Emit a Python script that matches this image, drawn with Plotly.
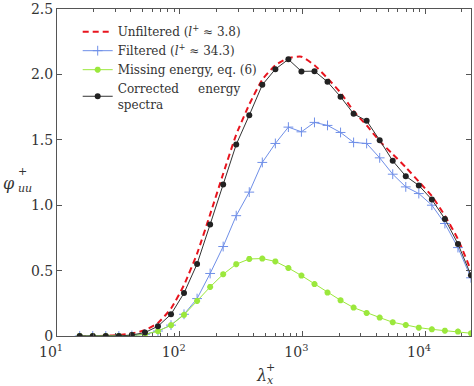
import plotly.graph_objects as go

# wavelength lambda_x^+
lam = [15.31, 19.56, 24.98, 31.92, 40.77, 52.10, 66.53, 85.01, 108.5, 138.7,
       177.2, 226.3, 289.1, 369.3, 471.7, 602.6, 769.7, 983.1, 1256, 1604,
       2049, 2618, 3344, 4272, 5457, 6971, 8905, 11374, 14529, 18561, 23710]

unfiltered = [0, 0, 0.002, 0.008, 0.02, 0.045, 0.10, 0.21, 0.39, 0.63,
              0.93, 1.24, 1.54, 1.77, 1.96, 2.07, 2.125, 2.135, 2.07, 1.97,
              1.86, 1.72, 1.61, 1.49, 1.39, 1.29, 1.18, 1.07, 0.92, 0.74, 0.50]

filtered = [0, 0, 0, 0, 0.004, 0.013, 0.038, 0.083, 0.166, 0.286,
            0.478, 0.684, 0.92, 1.10, 1.327, 1.472, 1.597, 1.561, 1.633, 1.610,
            1.556, 1.480, 1.472, 1.362, 1.237, 1.140, 1.089, 1.0, 0.86, 0.676, 0.445]

missing = [0, 0, 0, 0, 0.004, 0.013, 0.037, 0.083, 0.162, 0.268,
           0.375, 0.472, 0.549, 0.589, 0.592, 0.570, 0.520, 0.462, 0.397, 0.332,
           0.273, 0.217, 0.176, 0.141, 0.105, 0.084, 0.064, 0.051, 0.041, 0.034, 0.021]

corrected = [0, 0, 0, 0, 0.008, 0.026, 0.075, 0.166, 0.328, 0.551,
             0.853, 1.158, 1.464, 1.688, 1.920, 2.040, 2.115, 2.023, 2.025, 1.943,
             1.829, 1.699, 1.645, 1.497, 1.339, 1.222, 1.151, 1.043, 0.895, 0.704, 0.464]

x_tickvals = [10, 100, 1000, 10000]
x_ticktext = ["10<sup>1</sup>", "10<sup>2</sup>", "10<sup>3</sup>", "10<sup>4</sup>"]
y_tickvals = [0, 0.5, 1.0, 1.5, 2.0, 2.5]
y_ticktext = ["0", "0.5", "1.0", "1.5", "2.0", "2.5"]

FONT = "DejaVu Serif, Liberation Serif, serif"

fig = go.Figure()
fig.add_trace(go.Scatter(
    x=lam, y=unfiltered, mode="lines", name="Unfiltered (<i>l</i><sup>+</sup> ≈ 3.8)",
    line=dict(color="#e8141e", width=2, dash="6px,4px", shape="spline", smoothing=0.5)))
fig.add_trace(go.Scatter(
    x=lam, y=filtered, mode="lines+markers", name="Filtered (<i>l</i><sup>+</sup> ≈ 34.3)",
    line=dict(color="#6f8fe8", width=1),
    marker=dict(symbol="cross-thin", size=7, line=dict(color="#6f8fe8", width=1))))
fig.add_trace(go.Scatter(
    x=lam, y=missing, mode="lines+markers", name="Missing energy, eq. (6)",
    line=dict(color="#9be83c", width=1),
    marker=dict(symbol="asterisk-open", size=5, line=dict(color="#8fe030", width=2))))
fig.add_trace(go.Scatter(
    x=lam, y=corrected, mode="lines+markers",
    name="Corrected&nbsp;&nbsp;&nbsp;&nbsp;&nbsp;energy<br>spectra",
    line=dict(color="#333333", width=1),
    marker=dict(symbol="circle", size=6, color="#222222")))

axis_common = dict(showgrid=False, zeroline=False, showline=True, linecolor="#555555",
                   linewidth=1, mirror="ticks", ticks="inside", ticklen=5,
                   tickcolor="#555555", tickfont=dict(family=FONT, size=14, color="#333333"))

fig.update_xaxes(type="log", range=[1, 4.375], tickvals=x_tickvals, ticktext=x_ticktext,
                 minor=dict(ticks="inside", ticklen=3, dtick="D1", tickcolor="#555555"),
                 ticklabelshift=-6, ticklabelstandoff=3,
                 automargin=False, **axis_common)
fig.update_yaxes(range=[0, 2.5], tickvals=y_tickvals, ticktext=y_ticktext,
                 automargin=False, **axis_common)

ann_font = dict(family=FONT, size=16, color="#333333")
small_font = dict(family=FONT, size=11, color="#333333")
fig.add_annotation(xref="paper", yref="paper", x=-0.115, y=0.465, text="<i>φ</i>",
                   showarrow=False, font=ann_font, xanchor="center", yanchor="middle")
fig.add_annotation(xref="paper", yref="paper", x=-0.083, y=0.503, text="+",
                   showarrow=False, font=small_font, xanchor="center", yanchor="middle")
fig.add_annotation(xref="paper", yref="paper", x=-0.077, y=0.45, text="<i>uu</i>",
                   showarrow=False, font=small_font, xanchor="center", yanchor="middle")
fig.add_annotation(xref="paper", yref="paper", x=0.495, y=-0.12, text="<i>λ</i>",
                   showarrow=False, font=ann_font, xanchor="center", yanchor="middle")
fig.add_annotation(xref="paper", yref="paper", x=0.515, y=-0.097, text="+",
                   showarrow=False, font=small_font, xanchor="center", yanchor="middle")
fig.add_annotation(xref="paper", yref="paper", x=0.515, y=-0.137, text="<i>x</i>",
                   showarrow=False, font=small_font, xanchor="center", yanchor="middle")

fig.update_layout(
    width=474, height=386,
    margin=dict(l=57, r=3, t=9, b=50),
    paper_bgcolor="white", plot_bgcolor="white",
    font=dict(family=FONT, size=12, color="#333333"),
    showlegend=True,
    legend=dict(x=0.05, y=0.975, xanchor="left", yanchor="top",
                bgcolor="rgba(255,255,255,0)", borderwidth=0,
                font=dict(family=FONT, size=12, color="#333333"),
                tracegroupgap=0, itemwidth=30),
)

fig.write_html("out.html", config={"displayModeBar": False},
               post_script="document.body.style.margin='0';")
